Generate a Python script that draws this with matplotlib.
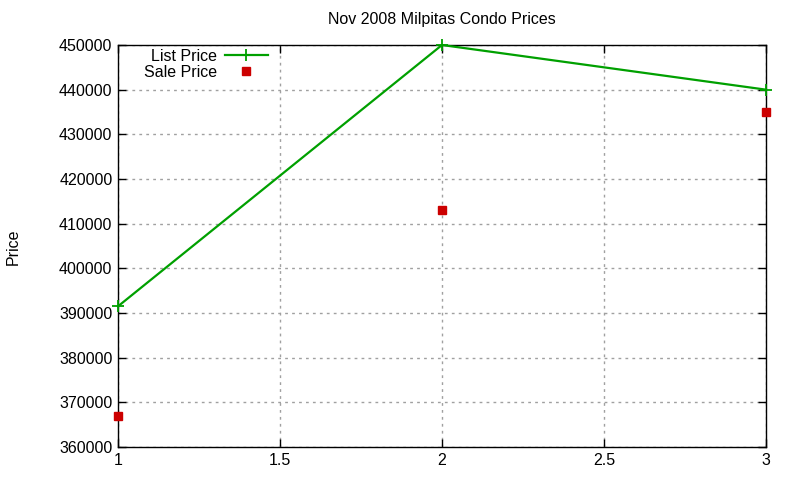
import matplotlib
matplotlib.use('Agg')
import matplotlib.pyplot as plt

units = [1, 2, 3]
list_price = [391500, 450000, 440000]
sale_price = [367000, 413000, 435000]
yticks = list(range(360000, 450001, 10000))
xticks = [1, 1.5, 2, 2.5, 3]

plt.rcParams['font.family'] = ['Liberation Sans', 'DejaVu Sans']
plt.rcParams['font.size'] = 11.5

fig = plt.figure(figsize=(8, 4.8), dpi=100)
ax = fig.add_axes([0.1475, 0.06875, 0.81, 0.8375])

ax.plot(units, list_price, color='#00a000', lw=1.6, marker='+', ms=8, mew=1.3,
        label='List Price', clip_on=False, zorder=3)
ax.plot(units, sale_price, ls='none', color='#cc0000', marker='s', ms=6,
        label='Sale Price', clip_on=False, zorder=3)

ax.set_xlim(1, 3)
ax.set_ylim(360000, 450000)
ax.set_xticks(xticks)
ax.set_xticklabels(['1', '1.5', '2', '2.5', '3'])
ax.set_yticks(yticks)
ax.set_yticklabels([str(v) for v in yticks])
ax.tick_params(direction='in', top=True, right=True, length=6, width=1,
               labelsize=11.5, pad=4)
ax.grid(True, color='#a0a0a0', ls=(0, (2, 3)), lw=1)
for s in ax.spines.values():
    s.set_linewidth(1)

ax.set_title('Nov 2008 Milpitas Condo Prices', fontsize=11.5, pad=15)
fig.text(0.016, 0.485, 'Price', rotation=90, va='center', ha='center', fontsize=11.5)

leg = ax.legend(loc='upper right', markerfirst=False, frameon=False,
                bbox_to_anchor=(0.2315, 0.990), handlelength=2.7,
                handletextpad=0.5, fontsize=11.5, labelspacing=0.05,
                borderaxespad=0, borderpad=0)
leg._legend_box.align = 'right'

fig.savefig('out.png', dpi=100)
